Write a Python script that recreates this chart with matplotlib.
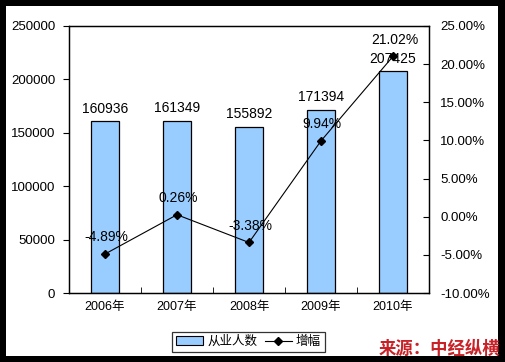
import matplotlib.pyplot as plt
import matplotlib.patches as mpatches
from matplotlib.lines import Line2D
from matplotlib.ticker import FuncFormatter, MultipleLocator
import numpy as np

plt.rcParams['font.family'] = ['Liberation Sans', 'Noto Sans CJK SC', 'DejaVu Sans']

years = ["2006年", "2007年", "2008年", "2009年", "2010年"]
workers = [160936, 161349, 155892, 171394, 207425]
growth = [-4.89, 0.26, -3.38, 9.94, 21.02]

fig = plt.figure(figsize=(5.05, 3.62), dpi=100)
fig.patch.set_facecolor("black")
fig.patches.append(mpatches.Rectangle((6 / 505, 6 / 362), 492 / 505, 350 / 362,
                                      transform=fig.transFigure, facecolor="white",
                                      edgecolor="none", zorder=-1))

ax = fig.add_axes([69 / 505, 1 - 293 / 362, 360 / 505, 267 / 362])
ax.set_facecolor("white")
x = np.arange(len(years))
bars = ax.bar(x, workers, width=0.4, color="#99CCFF", edgecolor="black", linewidth=0.9)
ax.set_xlim(-0.5, len(years) - 0.5)
ax.set_ylim(0, 250000)
ax.yaxis.set_major_locator(MultipleLocator(50000))
ax.set_xticks(x)
ax.set_xticklabels(years, fontsize=9)
ax.set_xticks(x[:-1] + 0.5, minor=True)
ax.tick_params(axis="x", which="major", length=0, pad=6)
ax.tick_params(axis="x", which="minor", direction="in", length=4)
ax.tick_params(axis="y", direction="out", length=4, labelsize=9.5, pad=6)
for s in ax.spines.values():
    s.set_linewidth(0.9)

for xi, v in zip(x, workers):
    ax.annotate(str(v), (xi, v), xytext=(0, 4), textcoords="offset points",
                ha="center", va="bottom", fontsize=10)

ax2 = ax.twinx()
ax2.plot(x, [g / 100 for g in growth], color="black", linewidth=0.8,
         marker="D", markersize=4, markerfacecolor="black")
ax2.set_ylim(-0.10, 0.25)
ax2.yaxis.set_major_locator(MultipleLocator(0.05))
ax2.yaxis.set_major_formatter(FuncFormatter(lambda v, p: f"{v * 100:.2f}%"))
ax2.tick_params(axis="y", direction="in", length=4, labelsize=9.5, pad=8)
for s in ax2.spines.values():
    s.set_linewidth(0.9)

for xi, g in zip(x, growth):
    ax2.annotate(f"{g:.2f}%", (xi, g / 100), xytext=(1, 7), textcoords="offset points",
                 ha="center", va="bottom", fontsize=10)

handles = [mpatches.Patch(facecolor="#99CCFF", edgecolor="black", linewidth=0.8),
           Line2D([], [], color="black", linewidth=0.8, marker="D", markersize=4)]
leg = fig.legend(handles, ["从业人数", "增幅"], loc="center", bbox_to_anchor=(0.492, 0.055),
                 ncol=2, fontsize=9, frameon=True, fancybox=False, edgecolor="black",
                 borderpad=0.3, handlelength=2.2, handletextpad=0.3, columnspacing=0.6,
                 borderaxespad=0.2)
leg.get_frame().set_linewidth(0.9)

fig.text(0.99, 0.012, "来源：中经纵横", ha="right", va="bottom", fontsize=12.5,
         fontweight="bold", style="italic", color="#C82228",
         family=['Noto Sans CJK SC', 'DejaVu Sans'])

fig.savefig("out.png", dpi=100, facecolor=fig.get_facecolor())
